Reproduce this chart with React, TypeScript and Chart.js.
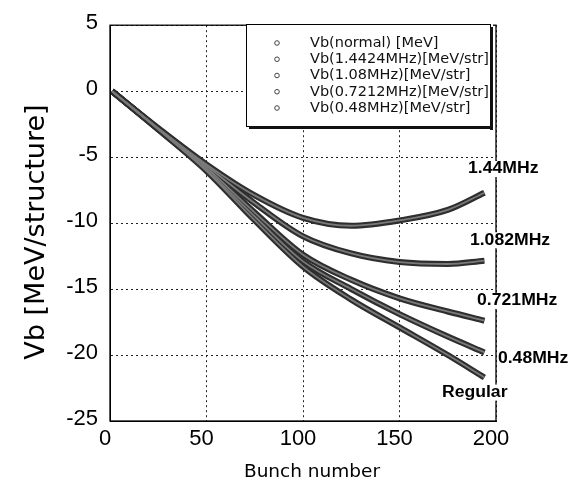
import React, { useEffect, useRef } from 'react';
import { Chart, registerables } from 'chart.js';

Chart.register(...registerables);

// ---- data ----
const bunchNumbers = [1, 25, 50, 75, 100, 125, 150, 175, 194];
const vbRegular = [0, -2.9, -6.05, -9.8, -13.3, -15.8, -17.9, -20.0, -21.7];
const vb1442MHz = [0, -2.8, -5.55, -7.9, -9.6, -10.2, -9.8, -9.0, -7.7];
const vb108MHz = [0, -2.85, -5.65, -8.5, -11.0, -12.3, -12.95, -13.1, -12.85];
const vb07212MHz = [0, -2.85, -5.8, -9.2, -12.4, -14.3, -15.7, -16.7, -17.4];
const vb048MHz = [0, -2.9, -5.95, -9.5, -12.9, -15.0, -16.9, -18.6, -19.8];

const legendLabels = [
  'Vb(normal) [MeV]',
  'Vb(1.4424MHz)[MeV/str]',
  'Vb(1.08MHz)[MeV/str]',
  'Vb(0.7212MHz)[MeV/str]',
  'Vb(0.48MHz)[MeV/str]',
];
const curveLabels = ['Regular', '1.44MHz', '1.082MHz', '0.721MHz', '0.48MHz'];
// label anchors in data units: [bunch number, Vb]
const curveLabelBunch = [172, 185.5, 186.5, 190.2, 201];
const curveLabelVb = [-22.85, -5.9, -11.3, -15.9, -20.3];

const xTickValues = [0, 50, 100, 150, 200];
const yTickValues = [5, 0, -5, -10, -15, -20, -25];
const xTitle = 'Bunch number';
const yTitle = 'Vb [MeV/structure]';

const seriesValues = [vbRegular, vb1442MHz, vb108MHz, vb07212MHz, vb048MHz];

const overlayPlugin = {
  id: 'overlay',
  afterDatasetsDraw(chart: any) {
    const { ctx, chartArea: a, scales } = chart;
    const xs = scales.x;
    const ys = scales.y;
    ctx.save();
    // frame
    ctx.strokeStyle = '#000';
    ctx.lineWidth = 1.3;
    ctx.strokeRect(a.left, a.top, a.right - a.left, a.bottom - a.top);

    // curve labels
    ctx.font = 'bold 16px "Liberation Sans"';
    ctx.textBaseline = 'middle';
    ctx.textAlign = 'left';
    curveLabels.forEach((t, i) => {
      const px = xs.getPixelForValue(curveLabelBunch[i]);
      const py = ys.getPixelForValue(curveLabelVb[i]);
      const w = ctx.measureText(t).width * 1.1;
      ctx.fillStyle = '#fff';
      ctx.fillRect(px + 1, py - 8, w, 16);
      ctx.save();
      ctx.translate(px, py);
      ctx.scale(1.1, 1);
      ctx.fillStyle = '#000';
      ctx.fillText(t, 0, 0);
      ctx.restore();
    });

    // legend box
    const bx = 246, by = 24, bw = 244, bh = 102;
    ctx.fillStyle = '#fff';
    ctx.fillRect(bx, by, bw + 3, bh + 3);
    ctx.strokeStyle = '#000';
    ctx.lineWidth = 1;
    ctx.strokeRect(bx + 0.5, by + 0.5, bw, bh);
    ctx.fillStyle = '#111';
    ctx.fillRect(bx + bw, by + 3, 3, bh + 1);
    ctx.fillRect(bx + 3, by + bh, bw, 3);
    ctx.font = '14.5px "DejaVu Sans"';
    legendLabels.forEach((t, i) => {
      const ry = 43 + i * 16.25;
      ctx.beginPath();
      ctx.arc(277, ry, 2.3, 0, Math.PI * 2);
      ctx.strokeStyle = '#444';
      ctx.lineWidth = 1;
      ctx.stroke();
      ctx.fillStyle = '#111';
      ctx.fillText(t, 310, ry);
    });

    // axis titles
    ctx.fillStyle = '#000';
    ctx.textAlign = 'center';
    ctx.font = '18.5px "DejaVu Sans"';
    ctx.fillText(xTitle, 312, 472);
    ctx.save();
    ctx.translate(37, 232);
    ctx.rotate(-Math.PI / 2);
    ctx.font = '27px "DejaVu Sans"';
    ctx.fillText(yTitle, 0, 0);
    ctx.restore();

    ctx.restore();
  },
};

export default function App() {
  const ref = useRef<HTMLCanvasElement | null>(null);

  useEffect(() => {
    if (!ref.current) return;
    const mk = (vals: number[]) => bunchNumbers.map((b, i) => ({ x: b, y: vals[i] }));
    const dark = seriesValues.map((vals, i) => ({
      label: legendLabels[i],
      data: mk(vals),
      borderColor: '#2e2e2e',
      borderWidth: 6,
      pointRadius: 0,
      cubicInterpolationMode: 'monotone' as const,
      order: 2,
    }));
    const light = seriesValues.map((vals, i) => ({
      label: legendLabels[i] + ' ',
      data: mk(vals),
      borderColor: '#7a7a7a',
      borderWidth: 1.8,
      pointRadius: 0,
      cubicInterpolationMode: 'monotone' as const,
      order: 1,
    }));

    const tickFont = { family: '"Liberation Sans", Arial', size: 22 };
    const chart = new Chart(ref.current, {
      type: 'line',
      data: { datasets: [...dark, ...light] },
      options: {
        animation: false,
        responsive: false,
        events: [],
        layout: { padding: { top: 18, right: 76, left: 0, bottom: 0 } },
        plugins: { legend: { display: false }, tooltip: { enabled: false }, title: { display: false } },
        scales: {
          x: {
            type: 'linear',
            min: 0,
            max: 200,
            afterBuildTicks: (s: any) => {
              s.ticks = xTickValues.map((v) => ({ value: v }));
            },
            afterFit: (s: any) => {
              s.height = 63;
            },
            ticks: { font: tickFont, color: '#000', padding: 5, labelOffset: -5, maxRotation: 0 },
            grid: { color: '#222', lineWidth: 1, drawTicks: false },
            border: { display: true, color: '#000', width: 1, dash: [2, 3] },
          },
          y: {
            type: 'linear',
            min: -25,
            max: 5,
            afterBuildTicks: (s: any) => {
              s.ticks = yTickValues.map((v) => ({ value: v }));
            },
            afterFit: (s: any) => {
              s.width = 110;
            },
            ticks: { font: tickFont, color: '#000', padding: 12, labelOffset: -2 },
            grid: { color: '#222', lineWidth: 1, drawTicks: false },
            border: { display: true, color: '#000', width: 1, dash: [2, 3] },
          },
        },
      },
      plugins: [overlayPlugin],
    });
    return () => chart.destroy();
  }, []);

  return (
    <div style={{ position: 'fixed', left: 0, top: 0, width: 572, height: 484, background: '#fff' }}>
      <canvas ref={ref} width={572} height={484} style={{ display: 'block', width: 572, height: 484 }} />
    </div>
  );
}
